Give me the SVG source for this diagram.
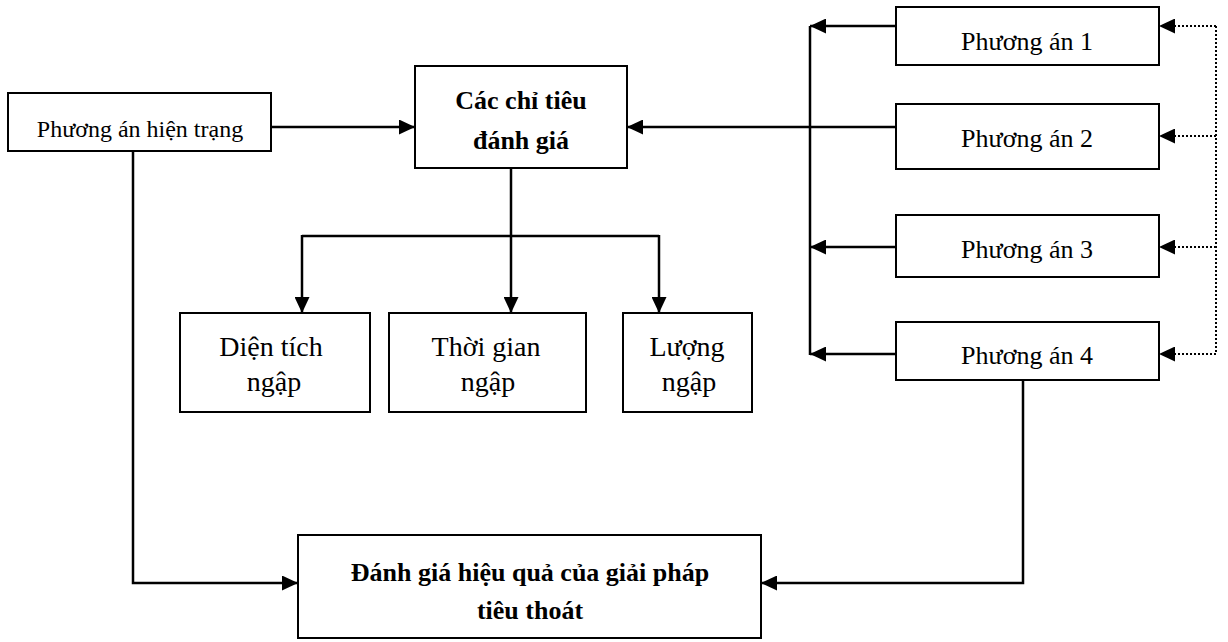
<svg xmlns="http://www.w3.org/2000/svg" width="1228" height="642" viewBox="0 0 1228 642">
<style>
.box{fill:#fff;stroke:#000;stroke-width:2}
.t{font-family:"Liberation Serif","Times New Roman",serif;font-size:26px;fill:#000;text-anchor:middle}
.s{font-size:24px}
.m{font-size:28px}
.b{font-weight:bold}
.c{fill:none;stroke:#000;stroke-width:2.5}
.d{fill:none;stroke:#000;stroke-width:2;stroke-dasharray:2 2}
</style>
<defs>
<marker id="ah" markerUnits="userSpaceOnUse" markerWidth="17" markerHeight="15" refX="16" refY="7.5" orient="auto">
<path d="M0,0 L16,7.5 L0,15 z" fill="#000"/>
</marker>
</defs>
<rect width="1228" height="642" fill="#fff"/>
<g id="connectors">
<path class="c" d="M271,127 H415" marker-end="url(#ah)"/>
<path class="c" d="M896,127 H627" marker-end="url(#ah)"/>
<path class="c" d="M511,168 V313" marker-end="url(#ah)"/>
<path class="c" d="M302,236 H659"/>
<path class="c" d="M302,235 V313" marker-end="url(#ah)"/>
<path class="c" d="M659,235 V313" marker-end="url(#ah)"/>
<path class="c" d="M810,355 V26"/>
<path class="c" d="M896,26 H810" marker-end="url(#ah)"/>
<path class="c" d="M896,247 H810" marker-end="url(#ah)"/>
<path class="c" d="M896,354 H810" marker-end="url(#ah)"/>
<path class="d" d="M1216,26 V354"/>
<path class="d" d="M1216,26 H1159" marker-end="url(#ah)"/>
<path class="d" d="M1216,136 H1159" marker-end="url(#ah)"/>
<path class="d" d="M1216,247 H1159" marker-end="url(#ah)"/>
<path class="d" d="M1216,354 H1159" marker-end="url(#ah)"/>
<path class="c" d="M133,151 V583 H298" marker-end="url(#ah)"/>
<path class="c" d="M1023,380 V583 H761" marker-end="url(#ah)"/>
</g>
<g id="hien-trang">
<rect class="box" x="8" y="93" width="263" height="58"/>
<text class="t s" x="140" y="137">Phương án hiện trạng</text>
</g>
<g id="chi-tieu">
<rect class="box" x="415" y="66" width="212" height="102"/>
<text class="t b" x="521" y="109">Các chỉ tiêu</text>
<text class="t b" x="521" y="149">đánh giá</text>
</g>
<g id="dien-tich">
<rect class="box" x="180" y="313" width="190" height="99"/>
<text class="t m" x="271" y="356">Diện tích</text>
<text class="t m" x="274" y="391">ngập</text>
</g>
<g id="thoi-gian">
<rect class="box" x="389" y="313" width="197" height="99"/>
<text class="t m" x="486" y="356">Thời gian</text>
<text class="t m" x="488" y="391">ngập</text>
</g>
<g id="luong">
<rect class="box" x="623" y="313" width="129" height="99"/>
<text class="t m" x="687" y="356">Lượng</text>
<text class="t m" x="689" y="391">ngập</text>
</g>
<g id="pa1">
<rect class="box" x="896" y="7" width="263" height="58"/>
<text class="t" x="1027" y="50">Phương án 1</text>
</g>
<g id="pa2">
<rect class="box" x="896" y="104" width="263" height="65"/>
<text class="t" x="1027" y="147">Phương án 2</text>
</g>
<g id="pa3">
<rect class="box" x="896" y="215" width="263" height="62"/>
<text class="t" x="1027" y="258">Phương án 3</text>
</g>
<g id="pa4">
<rect class="box" x="896" y="322" width="263" height="58"/>
<text class="t" x="1027" y="364">Phương án 4</text>
</g>
<g id="danh-gia">
<rect class="box" x="298" y="535" width="463" height="103"/>
<text class="t b" x="530" y="581">Đánh giá hiệu quả của giải pháp</text>
<text class="t b" x="530" y="619">tiêu thoát</text>
</g>
</svg>
